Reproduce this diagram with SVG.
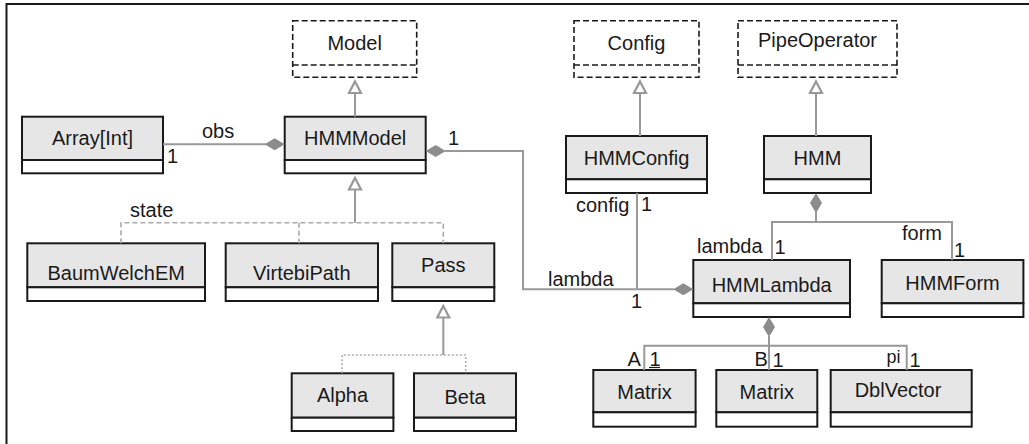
<svg xmlns="http://www.w3.org/2000/svg" width="1029" height="444" viewBox="0 0 1029 444">
<style>
text{font-family:"Liberation Sans",Arial,sans-serif;font-size:20px;fill:#1a1a1a}
.c{text-anchor:middle}
.top{fill:#e6e6e6;stroke:#1a1a1a;stroke-width:2}
.bot{fill:#fff;stroke:#1a1a1a;stroke-width:2}
.abs{fill:#fff;stroke:#1a1a1a;stroke-width:1.6;stroke-dasharray:6,3}
.ln{fill:none;stroke:#999;stroke-width:2}
.dash{fill:none;stroke:#aaa;stroke-width:1.6;stroke-dasharray:5,3}
.dot{fill:none;stroke:#aaa;stroke-width:1.5;stroke-dasharray:2,2}
.tri{fill:#fff;stroke:#999;stroke-width:2.2}
.dia{fill:#8c8c8c;stroke:none}
</style>
<path d="M6.5 444 V4 H1029" fill="none" stroke="#1a1a1a" stroke-width="2"/>

<g id="Model"><rect class="abs" x="292.7" y="20.7" width="124" height="56.6"/><line class="abs" x1="292.7" y1="65" x2="416.7" y2="65"/><text class="c" x="354.7" y="50">Model</text></g>
<g id="Config"><rect class="abs" x="574" y="20.7" width="125" height="56.6"/><line class="abs" x1="574" y1="65" x2="699" y2="65"/><text class="c" x="636.5" y="50">Config</text></g>
<g id="PipeOperator"><rect class="abs" x="738" y="20.7" width="159" height="56.6"/><line class="abs" x1="738" y1="65" x2="897" y2="65"/><text class="c" x="817.5" y="47">PipeOperator</text></g>

<g id="ArrayInt"><rect class="top" x="22" y="116.7" width="141" height="43.3"/><rect class="bot" x="22" y="160" width="141" height="13.3"/><text class="c" x="92.5" y="145">Array[Int]</text></g>
<g id="HMMModel"><rect class="top" x="284.7" y="116.7" width="141" height="43.3"/><rect class="bot" x="284.7" y="160" width="141" height="13.3"/><text class="c" x="355.2" y="145">HMMModel</text></g>
<g id="HMMConfig"><rect class="top" x="566" y="136" width="141" height="43.3"/><rect class="bot" x="566" y="179.3" width="141" height="13.7"/><text class="c" x="636.5" y="165">HMMConfig</text></g>
<g id="HMM"><rect class="top" x="764" y="136" width="107" height="43.3"/><rect class="bot" x="764" y="179.3" width="107" height="13.7"/><text class="c" x="817.5" y="165">HMM</text></g>

<g id="BaumWelchEM"><rect class="top" x="27.3" y="243.3" width="177.7" height="44"/><rect class="bot" x="27.3" y="287.3" width="177.7" height="13.7"/><text class="c" x="116.2" y="280">BaumWelchEM</text></g>
<g id="VirtebiPath"><rect class="top" x="225.7" y="243.3" width="152.3" height="44"/><rect class="bot" x="225.7" y="287.3" width="152.3" height="13.7"/><text class="c" x="301.8" y="280">VirtebiPath</text></g>
<g id="Pass"><rect class="top" x="392.3" y="243.3" width="102" height="44"/><rect class="bot" x="392.3" y="287.3" width="102" height="13.7"/><text class="c" x="443.3" y="272">Pass</text></g>
<g id="Alpha"><rect class="top" x="291.7" y="373.3" width="101.7" height="44.4"/><rect class="bot" x="291.7" y="417.7" width="101.7" height="13.3"/><text class="c" x="342.5" y="402">Alpha</text></g>
<g id="Beta"><rect class="top" x="414" y="373.3" width="102" height="44.4"/><rect class="bot" x="414" y="417.7" width="102" height="13.3"/><text class="c" x="465" y="403.5">Beta</text></g>

<g id="HMMLambda"><rect class="top" x="693.3" y="260" width="156.7" height="43.3"/><rect class="bot" x="693.3" y="303.3" width="156.7" height="13.7"/><text class="c" x="771.7" y="291.7">HMMLambda</text></g>
<g id="HMMForm"><rect class="top" x="881.7" y="260" width="141.7" height="43.3"/><rect class="bot" x="881.7" y="303.3" width="141.7" height="13.7"/><text class="c" x="952.5" y="290">HMMForm</text></g>
<g id="MatrixA"><rect class="top" x="593.3" y="370" width="102.3" height="42.3"/><rect class="bot" x="593.3" y="412.3" width="102.3" height="14.4"/><text class="c" x="644.5" y="399">Matrix</text></g>
<g id="MatrixB"><rect class="top" x="716.3" y="370" width="101" height="42.3"/><rect class="bot" x="716.3" y="412.3" width="101" height="14.4"/><text class="c" x="766.8" y="399">Matrix</text></g>
<g id="DblVector"><rect class="top" x="830.7" y="370" width="141" height="42.3"/><rect class="bot" x="830.7" y="412.3" width="141" height="14.4"/><text class="c" x="898" y="397">DblVector</text></g>

<g id="connectors">
<line class="ln" x1="355" y1="116.7" x2="355" y2="93"/><path class="tri" d="M355 81.5 L361 93 L349 93 Z"/>
<line class="ln" x1="640" y1="136" x2="640" y2="93"/><path class="tri" d="M640 81.5 L646 93 L634 93 Z"/>
<line class="ln" x1="816" y1="136" x2="816" y2="93"/><path class="tri" d="M816 81.5 L822 93 L810 93 Z"/>

<line class="ln" x1="355" y1="189.5" x2="355" y2="222.7"/><path class="tri" d="M355 178 L361 189.5 L349 189.5 Z"/>
<path class="dash" d="M121 243.3 V222.7 H443.3 V243.3 M299 222.7 V243.3"/>

<line class="ln" x1="443.3" y1="317.5" x2="443.3" y2="355"/><path class="tri" d="M443.3 306 L449.3 317.5 L437.3 317.5 Z"/>
<path class="dot" d="M342 373.3 V355 H465.7 V373.3"/>

<line class="ln" x1="163" y1="144.3" x2="266" y2="144.3"/><path class="dia" d="M264.7 144.3 L274.7 138.3 L284.7 144.3 L274.7 150.3 Z"/>

<path class="ln" d="M445 151 H523 V289.3 H674"/><path class="dia" d="M425.7 151 L435.7 145 L445.7 151 L435.7 157 Z"/><path class="dia" d="M673.3 289.3 L683.3 283.3 L693.3 289.3 L683.3 295.3 Z"/>
<line class="ln" x1="637" y1="193" x2="637" y2="289.3"/>

<path class="ln" d="M816 212 V222 M772 260 V222 H952 V260"/><path class="dia" d="M816 193 L822 203 L816 213 L810 203 Z"/>

<path class="ln" d="M769 336 V345.7 M644.3 370 V345.7 H906.7 V370 M769 345.7 V370"/><path class="dia" d="M769 317 L775 327 L769 337 L763 327 Z"/>
</g>

<g id="labels">
<text x="202" y="137.5">obs</text>
<text x="167" y="163">1</text>
<text x="448" y="144.5">1</text>
<text x="130" y="217">state</text>
<text x="548" y="286">lambda</text>
<text x="631" y="308">1</text>
<text x="576" y="211.5">config</text>
<text x="641" y="210.5">1</text>
<text x="697" y="253">lambda</text>
<text x="774.5" y="254">1</text>
<text x="902" y="240">form</text>
<text x="954" y="257">1</text>
<text x="627.5" y="366">A</text>
<text x="649.5" y="366">1</text>
<line x1="649" y1="367.5" x2="660" y2="367.5" stroke="#1a1a1a" stroke-width="1.2"/>
<text x="754.5" y="366">B</text>
<text x="772.5" y="366.5">1</text>
<text x="886.5" y="363" style="font-size:18px">pi</text>
<text x="909.5" y="366.5">1</text>
</g>
</svg>
